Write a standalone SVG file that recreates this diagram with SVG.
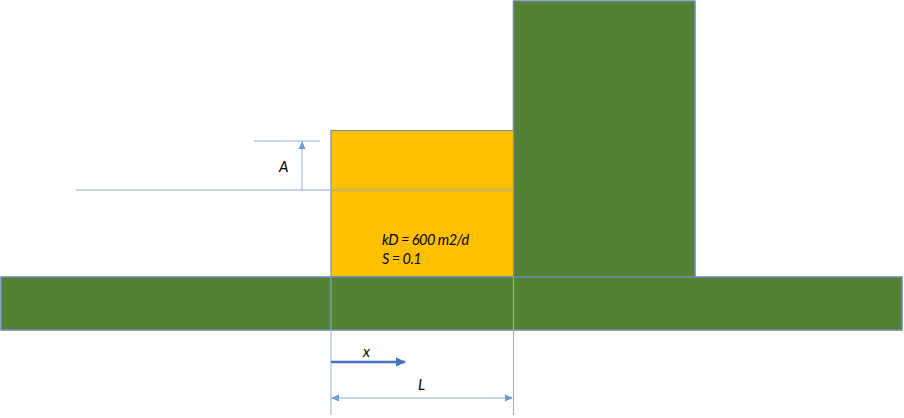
<svg xmlns="http://www.w3.org/2000/svg" width="904" height="418" viewBox="0 0 904 418">
<style>
.green{fill:#548235;stroke:#6F86B0;stroke-width:1.5}
.orange{fill:#FFC000;stroke:#7F8FA6;stroke-width:1.2}
.thin{stroke:#8FAADC;stroke-width:1;fill:none}
.lbl{font-family:Lato,"Liberation Sans",Arial,sans-serif;font-style:italic;font-size:15px;fill:#000}
.val{font-size:14.5px;letter-spacing:-0.5px}
</style>
<defs>
<marker id="tri" markerWidth="8" markerHeight="8" refX="7" refY="4" orient="auto-start-reverse" markerUnits="userSpaceOnUse">
<path d="M0,0.5 L8,4 L0,7.5 Z" fill="#6F9BDC"/>
</marker>
<marker id="thick" markerWidth="10" markerHeight="10" refX="9" refY="5" orient="auto" markerUnits="userSpaceOnUse">
<path d="M0,0.5 L10,5 L0,9.5 Z" fill="#4472C4"/>
</marker>
</defs>
<g id="tall-block"><rect class="green" x="513.5" y="1" width="181.5" height="276"/></g>
<g id="aquifer"><rect class="orange" x="331" y="130.5" width="182.5" height="146.5"/></g>
<g id="base"><rect class="green" x="1" y="277" width="901" height="53"/></g>
<g id="connectors">
<line class="thin" x1="76" y1="190" x2="513" y2="190"/>
<line class="thin" x1="254" y1="141" x2="320" y2="141"/>
<line class="thin" x1="302" y1="190" x2="302" y2="142" marker-end="url(#tri)"/>
<line class="thin" x1="331" y1="277" x2="331" y2="415"/>
<line class="thin" x1="513.5" y1="277" x2="513.5" y2="415"/>
<line class="thin" x1="332" y1="398" x2="512" y2="398" marker-start="url(#tri)" marker-end="url(#tri)"/>
<line x1="331" y1="362" x2="405" y2="362" stroke="#4472C4" stroke-width="2.5" marker-end="url(#thick)"/>
</g>
<g id="labels">
<text class="lbl" x="279" y="172">A</text>
<text class="lbl val" x="382" y="245">kD = 600 m2/d</text>
<text class="lbl val" x="382" y="264">S = 0.1</text>
<text class="lbl" x="363" y="357">x</text>
<text class="lbl" x="418" y="390">L</text>
</g>
</svg>
